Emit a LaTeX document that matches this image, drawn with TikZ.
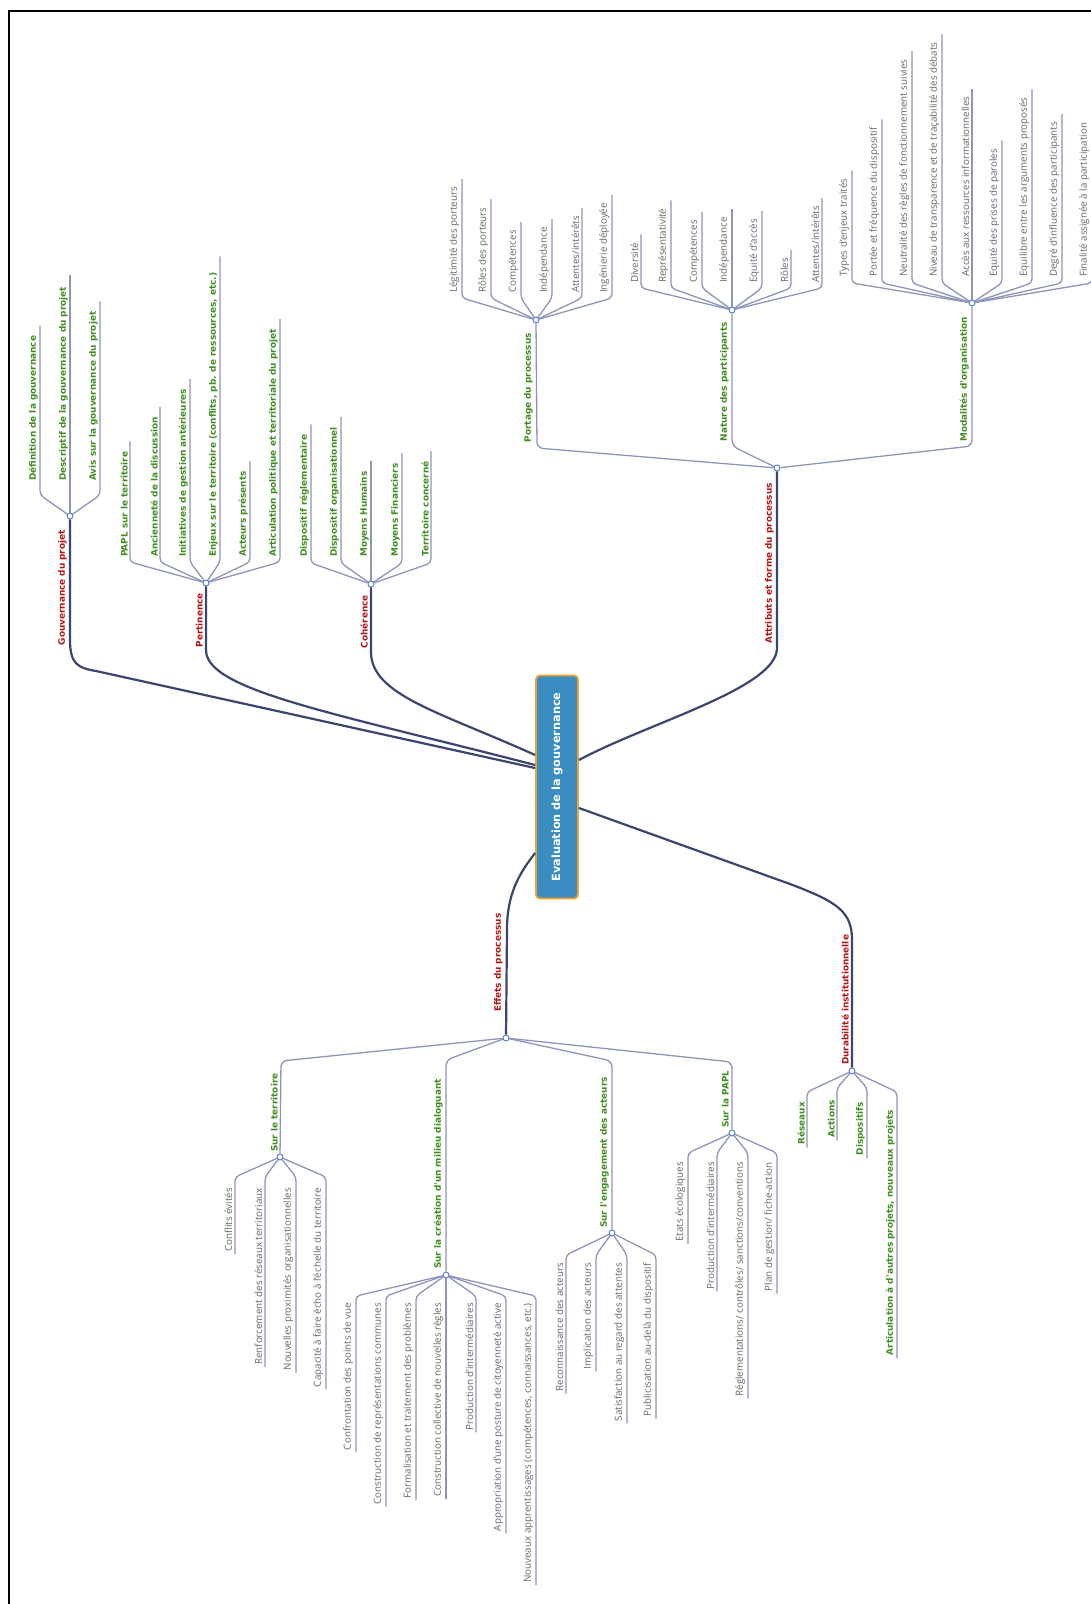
\documentclass[tikz,border=0pt]{standalone}
\usepackage{fontspec}
\setmainfont{Open Sans}
\newfontfamily\labfont{DejaVu Sans}
\usepackage{tikz}

\definecolor{limbc}{HTML}{3B4670}
\definecolor{twigc}{HTML}{8D95B8}
\definecolor{hubc}{HTML}{4A78D8}
\definecolor{leafc}{HTML}{666666}
\definecolor{greenc}{HTML}{3E8E1E}
\definecolor{redc}{HTML}{B41414}
\definecolor{corefill}{HTML}{3A8DC1}
\definecolor{coreline}{HTML}{F2A226}

\tikzset{
  edgeframe/.style={line width=1.6pt, black},
  core/.style={rotate=90, draw=coreline, fill=corefill, line width=1.8pt, rounded corners=4pt,
    minimum width=223pt, minimum height=42pt, text=white,
    font=\labfont\bfseries\fontsize{11.3}{13}\selectfont},
  hub/.style={circle, draw=hubc, fill=white, line width=0.9pt, inner sep=0pt, minimum size=6pt},
  limb/.style={draw=limbc, line width=2.2pt},
  twig/.style={draw=twigc, line width=1.3pt, rounded corners=4pt},
  leaftext/.style={rotate=90, inner xsep=0pt, inner ysep=2.6pt, text=leafc,
    font=\fontsize{9.8}{11}\selectfont},
  greenlab/.style={rotate=90, inner xsep=0pt, inner ysep=2pt, text=greenc,
    font=\labfont\bfseries\fontsize{8.9}{10}\selectfont},
  redlab/.style={greenlab, text=redc}
}

\begin{document}
\begin{tikzpicture}[x=1pt,y=-1pt]
  \useasboundingbox (0,0) rectangle (1091,1604);
  \draw[edgeframe] (9,1604) -- (9,11) -- (1091,11);

  % centre
  \node[core] (ev) at (557,787) {Evaluation de la gouvernance};

  % Gouvernance du projet
  \node[hub] (gv) at (70,516) {};
  \node[redlab, anchor=south east] (gvl) at (69,530) {Gouvernance du projet};
  \node[greenlab, anchor=south west] (gv1) at (40,481) {Définition de la gouvernance};
  \node[greenlab, anchor=south west] (gv2) at (70,481) {Descriptif de la gouvernance du projet};
  \node[greenlab, anchor=south west] (gv3) at (100,481) {Avis sur la gouvernance du projet};
  \draw[twig] (gv) -- ([yshift=-14pt]gv1.south west) -- ([yshift=10pt]gv1.south east);
  \draw[twig] (gv) -- ([yshift=-14pt]gv2.south west) -- ([yshift=12pt]gv2.south east);
  \draw[twig] (gv) -- ([yshift=-14pt]gv3.south west) -- ([yshift=10pt]gv3.south east);
  \draw[limb] (gv) -- (70,640) .. controls (70,664) and (78,668) .. (96,671) -- ([yshift=19pt]ev.north);

  % Pertinence
  \node[hub] (pe) at (206,583) {};
  \node[redlab, anchor=south east] (pel) at (205,593) {Pertinence};
  \node[greenlab, anchor=south west] (pe1) at (130,557) {PAPL sur le territoire};
  \node[greenlab, anchor=south west] (pe2) at (160,557) {Ancienneté de la discussion};
  \node[greenlab, anchor=south west] (pe3) at (190,557) {Initiatives de gestion antérieures};
  \node[greenlab, anchor=south west] (pe4) at (220,557) {Enjeux sur le territoire (conflits, pb. de ressources, etc.)};
  \node[greenlab, anchor=south west] (pe5) at (250,557) {Acteurs présents};
  \node[greenlab, anchor=south west] (pe6) at (280,557) {Articulation politique et territoriale du projet};
  \draw[twig] (pe) -- ([yshift=-5pt]pe1.south west) -- ([yshift=10pt]pe1.south east);
  \draw[twig] (pe) -- ([yshift=-5pt]pe2.south west) -- ([yshift=10pt]pe2.south east);
  \draw[twig] (pe) -- ([yshift=-5pt]pe3.south west) -- ([yshift=10pt]pe3.south east);
  \draw[twig] (pe) -- ([yshift=-5pt]pe4.south west) -- ([yshift=16pt]pe4.south east);
  \draw[twig] (pe) -- ([yshift=-5pt]pe5.south west) -- ([yshift=10pt]pe5.south east);
  \draw[twig] (pe) -- ([yshift=-5pt]pe6.south west) -- ([yshift=10pt]pe6.south east);
  \draw[limb] (pe) -- (206,650) .. controls (206,690) and (330,712) .. ([yshift=22pt]ev.north);

  % Coherence
  \node[hub] (co) at (371,584) {};
  \node[redlab, anchor=south east] (col) at (370,595) {Cohérence};
  \node[greenlab, anchor=south west] (co1) at (311,557) {Dispositif réglementaire};
  \node[greenlab, anchor=south west] (co2) at (341,557) {Dispositif organisationnel};
  \node[greenlab, anchor=south west] (co3) at (371,557) {Moyens Humains};
  \node[greenlab, anchor=south west] (co4) at (402,557) {Moyens Financiers};
  \node[greenlab, anchor=south west] (co5) at (431,557) {Territoire concerné};
  \draw[twig] (co) -- ([yshift=-6pt]co1.south west) -- ([yshift=10pt]co1.south east);
  \draw[twig] (co) -- ([yshift=-6pt]co2.south west) -- ([yshift=10pt]co2.south east);
  \draw[twig] (co) -- ([yshift=-6pt]co3.south west) -- ([yshift=10pt]co3.south east);
  \draw[twig] (co) -- ([yshift=-6pt]co4.south west) -- ([yshift=10pt]co4.south east);
  \draw[twig] (co) -- ([yshift=-6pt]co5.south west) -- ([yshift=10pt]co5.south east);
  \draw[limb] (co) -- (371,652) .. controls (371,695) and (440,712) .. ([yshift=32pt]ev.north);

  % Attributs et forme du processus
  \node[hub] (at) at (777,468) {};
  \node[redlab, anchor=south east] (atl) at (776,483) {Attributs et forme du processus};
  \draw[limb] (at) -- (777,648) .. controls (777,688) and (650,722) .. ([yshift=27pt]ev.south);

  \node[hub] (pp) at (536,320) {};
  \node[greenlab, anchor=south east] (ppl) at (535,333) {Portage du processus};
  \node[leaftext, anchor=south west] (pp1) at (462,293) {Légitimité des porteurs};
  \node[leaftext, anchor=south west] (pp2) at (491,293) {Rôles des porteurs};
  \node[leaftext, anchor=south west] (pp3) at (521,293) {Compétences};
  \node[leaftext, anchor=south west] (pp4) at (552,293) {Indépendance};
  \node[leaftext, anchor=south west] (pp5) at (582,293) {Attentes/intérêts};
  \node[leaftext, anchor=south west] (pp6) at (612,293) {Ingénierie déployée};
  \draw[twig] (pp) -- ([yshift=-5pt]pp1.south west) -- ([yshift=8pt]pp1.south east);
  \draw[twig] (pp) -- ([yshift=-5pt]pp2.south west) -- ([yshift=8pt]pp2.south east);
  \draw[twig] (pp) -- ([yshift=-5pt]pp3.south west) -- ([yshift=8pt]pp3.south east);
  \draw[twig] (pp) -- ([yshift=-5pt]pp4.south west) -- ([yshift=8pt]pp4.south east);
  \draw[twig] (pp) -- ([yshift=-5pt]pp5.south west) -- ([yshift=8pt]pp5.south east);
  \draw[twig] (pp) -- ([yshift=-5pt]pp6.south west) -- ([yshift=8pt]pp6.south east);
  \draw[twig, rounded corners=6pt] (at) -- (537,448) -- (pp);

  \node[hub] (np) at (732,310) {};
  \node[greenlab, anchor=south east] (npl) at (731,322) {Nature des participants};
  \node[leaftext, anchor=south west] (np1) at (641,283) {Diversité};
  \node[leaftext, anchor=south west] (np2) at (671,283) {Représentativité};
  \node[leaftext, anchor=south west] (np3) at (702,283) {Compétences};
  \node[leaftext, anchor=south west] (np4) at (732,283) {Indépendance};
  \node[leaftext, anchor=south west] (np5) at (762,283) {Equité d'accès};
  \node[leaftext, anchor=south west] (np6) at (791,283) {Rôles};
  \node[leaftext, anchor=south west] (np7) at (822,283) {Attentes/intérêts};
  \draw[twig] (np) -- ([yshift=-5pt]np1.south west) -- ([yshift=8pt]np1.south east);
  \draw[twig] (np) -- ([yshift=-5pt]np2.south west) -- ([yshift=8pt]np2.south east);
  \draw[twig] (np) -- ([yshift=-5pt]np3.south west) -- ([yshift=8pt]np3.south east);
  \draw[twig] (np) -- ([yshift=-5pt]np4.south west) -- ([yshift=8pt]np4.south east);
  \draw[twig] (np) -- ([yshift=-5pt]np5.south west) -- ([yshift=8pt]np5.south east);
  \draw[twig] (np) -- ([yshift=-5pt]np6.south west) -- ([yshift=8pt]np6.south east);
  \draw[twig] (np) -- ([yshift=-5pt]np7.south west) -- ([yshift=8pt]np7.south east);
  \draw[twig, rounded corners=6pt] (at) -- (732,446) -- (np);

  \node[hub] (mo) at (972,303) {};
  \node[greenlab, anchor=south east] (mol) at (971,317) {Modalités d'organisation};
  \node[leaftext, anchor=south west] (mo1) at (852,277) {Types d'enjeux traités};
  \node[leaftext, anchor=south west] (mo2) at (882,277) {Portée et fréquence du dispositif};
  \node[leaftext, anchor=south west] (mo3) at (912,277) {Neutralité des règles de fonctionnement suivies};
  \node[leaftext, anchor=south west] (mo4) at (942,277) {Niveau de transparence et de traçabilité des débats};
  \node[leaftext, anchor=south west] (mo5) at (972,277) {Accès aux ressources informationnelles};
  \node[leaftext, anchor=south west] (mo6) at (1002,277) {Equité des prises de paroles};
  \node[leaftext, anchor=south west] (mo7) at (1032,277) {Equilibre entre les arguments proposés};
  \node[leaftext, anchor=south west] (mo8) at (1062,277) {Degré d'influence des participants};
  \node[leaftext, anchor=south west] (mo9) at (1092,277) {Finalité assignée à la participation};
  \draw[twig] (mo) -- ([yshift=-6pt]mo1.south west) -- ([yshift=8pt]mo1.south east);
  \draw[twig] (mo) -- ([yshift=-6pt]mo2.south west) -- ([yshift=8pt]mo2.south east);
  \draw[twig] (mo) -- ([yshift=-6pt]mo3.south west) -- ([yshift=8pt]mo3.south east);
  \draw[twig] (mo) -- ([yshift=-6pt]mo4.south west) -- ([yshift=8pt]mo4.south east);
  \draw[twig] (mo) -- ([yshift=-6pt]mo5.south west) -- ([yshift=8pt]mo5.south east);
  \draw[twig] (mo) -- ([yshift=-6pt]mo6.south west) -- ([yshift=8pt]mo6.south east);
  \draw[twig] (mo) -- ([yshift=-6pt]mo7.south west) -- ([yshift=8pt]mo7.south east);
  \draw[twig] (mo) -- ([yshift=-6pt]mo8.south west) -- ([yshift=8pt]mo8.south east);
  \draw[twig] (mo) -- ([yshift=-6pt]mo9.south west) -- ([yshift=8pt]mo9.south east);
  \draw[twig, rounded corners=6pt] (at) -- (972,446) -- (mo);

  % Effets du processus
  \node[hub] (ef) at (506,1038) {};
  \node[redlab, anchor=south west] (efl) at (505,1012) {Effets du processus};
  \draw[limb] ([yshift=-66pt]ev.north) .. controls (518,875) and (507,895) .. (507,930) -- (ef);

  \node[hub] (st) at (280,1157) {};
  \node[greenlab, anchor=south west] (stl) at (280,1152) {Sur le territoire};
  \node[leaftext, anchor=south east] (st1) at (235,1188) {Conflits évités};
  \node[leaftext, anchor=south east] (st2) at (265,1188) {Renforcement des réseaux territoriaux};
  \node[leaftext, anchor=south east] (st3) at (296,1188) {Nouvelles proximités organisationnelles};
  \node[leaftext, anchor=south east] (st4) at (326,1188) {Capacité à faire écho à l'échelle du territoire};
  \draw[twig] (st) -- ([yshift=11pt]st1.south east) -- ([yshift=-2pt]st1.south west);
  \draw[twig] (st) -- ([yshift=11pt]st2.south east) -- ([yshift=-2pt]st2.south west);
  \draw[twig] (st) -- ([yshift=11pt]st3.south east) -- ([yshift=-2pt]st3.south west);
  \draw[twig] (st) -- ([yshift=11pt]st4.south east) -- ([yshift=-2pt]st4.south west);
  \draw[twig, rounded corners=6pt] (ef) -- (281,1061) -- (st);

  \node[hub] (sc) at (446,1275) {};
  \node[greenlab, anchor=south west] (scl) at (445,1269) {Sur la création d'un milieu dialoguant};
  \node[leaftext, anchor=south east] (sc1) at (356,1303) {Confrontation des points de vue};
  \node[leaftext, anchor=south east] (sc2) at (386,1303) {Construction de représentations communes};
  \node[leaftext, anchor=south east] (sc3) at (416,1303) {Formalisation et traitement des problèmes};
  \node[leaftext, anchor=south east] (sc4) at (446,1303) {Construction collective de nouvelles règles};
  \node[leaftext, anchor=south east] (sc5) at (476,1303) {Production d'intermédiaires};
  \node[leaftext, anchor=south east] (sc6) at (506,1303) {Appropriation d'une posture de citoyenneté active};
  \node[leaftext, anchor=south east] (sc7) at (536,1303) {Nouveaux apprentissages (compétences, connaissances, etc.)};
  \draw[twig] (sc) -- ([yshift=7pt]sc1.south east) -- ([yshift=-2pt]sc1.south west);
  \draw[twig] (sc) -- ([yshift=7pt]sc2.south east) -- ([yshift=-2pt]sc2.south west);
  \draw[twig] (sc) -- ([yshift=7pt]sc3.south east) -- ([yshift=-2pt]sc3.south west);
  \draw[twig] (sc) -- ([yshift=7pt]sc4.south east) -- ([yshift=-2pt]sc4.south west);
  \draw[twig] (sc) -- ([yshift=7pt]sc5.south east) -- ([yshift=-2pt]sc5.south west);
  \draw[twig] (sc) -- ([yshift=7pt]sc6.south east) -- ([yshift=-2pt]sc6.south west);
  \draw[twig] (sc) -- ([yshift=7pt]sc7.south east) -- ([yshift=-2pt]sc7.south west);
  \draw[twig, rounded corners=6pt] (ef) -- (446,1060) -- (sc);

  \node[hub] (se) at (612,1233) {};
  \node[greenlab, anchor=south west] (sel) at (611,1228) {Sur l'engagement des acteurs};
  \node[leaftext, anchor=south east] (se1) at (566,1263) {Reconnaissance des acteurs};
  \node[leaftext, anchor=south east] (se2) at (596,1263) {Implication des acteurs};
  \node[leaftext, anchor=south east] (se3) at (627,1263) {Satisfaction au regard des attentes};
  \node[leaftext, anchor=south east] (se4) at (656,1263) {Publicisation au-delà du dispositif};
  \draw[twig] (se) -- ([yshift=8pt]se1.south east) -- ([yshift=-2pt]se1.south west);
  \draw[twig] (se) -- ([yshift=8pt]se2.south east) -- ([yshift=-2pt]se2.south west);
  \draw[twig] (se) -- ([yshift=8pt]se3.south east) -- ([yshift=-2pt]se3.south west);
  \draw[twig] (se) -- ([yshift=8pt]se4.south east) -- ([yshift=-2pt]se4.south west);
  \draw[twig, rounded corners=6pt] (ef) -- (612,1061) -- (se);

  \node[hub] (sp) at (732,1133) {};
  \node[greenlab, anchor=south west] (spl) at (731,1128) {Sur la PAPL};
  \node[leaftext, anchor=south east] (sp1) at (688,1162) {Etats écologiques};
  \node[leaftext, anchor=south east] (sp2) at (717,1162) {Production d'intermédiaires};
  \node[leaftext, anchor=south east] (sp3) at (748,1162) {Réglementations/ contrôles/ sanctions/conventions};
  \node[leaftext, anchor=south east] (sp4) at (777,1162) {Plan de gestion/ fiche-action};
  \draw[twig] (sp) -- ([yshift=9pt]sp1.south east) -- ([yshift=-2pt]sp1.south west);
  \draw[twig] (sp) -- ([yshift=9pt]sp2.south east) -- ([yshift=-2pt]sp2.south west);
  \draw[twig] (sp) -- ([yshift=9pt]sp3.south east) -- ([yshift=-2pt]sp3.south west);
  \draw[twig] (sp) -- ([yshift=9pt]sp4.south east) -- ([yshift=-2pt]sp4.south west);
  \draw[twig, rounded corners=6pt] (ef) -- (732,1062) -- (sp);

  % Durabilite institutionnelle
  \node[hub] (du) at (852,1071) {};
  \node[redlab, anchor=south west] (dul) at (851,1065) {Durabilité institutionnelle};
  \node[greenlab, anchor=south east] (du1) at (807,1102) {Réseaux};
  \node[greenlab, anchor=south east] (du2) at (837,1100) {Actions};
  \node[greenlab, anchor=south east] (du3) at (867,1102) {Dispositifs};
  \node[greenlab, anchor=south east] (du4) at (897,1110) {Articulation à d'autres projets, nouveaux projets};
  \draw[twig] (du) -- ([yshift=10pt]du1.south east) -- ([yshift=-3pt]du1.south west);
  \draw[twig] (du) -- ([yshift=12pt]du2.south east) -- ([yshift=-3pt]du2.south west);
  \draw[twig] (du) -- ([yshift=14pt]du3.south east) -- ([yshift=-3pt]du3.south west);
  \draw[twig] (du) -- ([yshift=18pt]du4.south east) -- ([yshift=-3pt]du4.south west);
  \draw[limb] ([yshift=-21pt]ev.south) -- (790,884) .. controls (838,902) and (852,912) .. (852,940) -- (du);
\end{tikzpicture}
\end{document}
